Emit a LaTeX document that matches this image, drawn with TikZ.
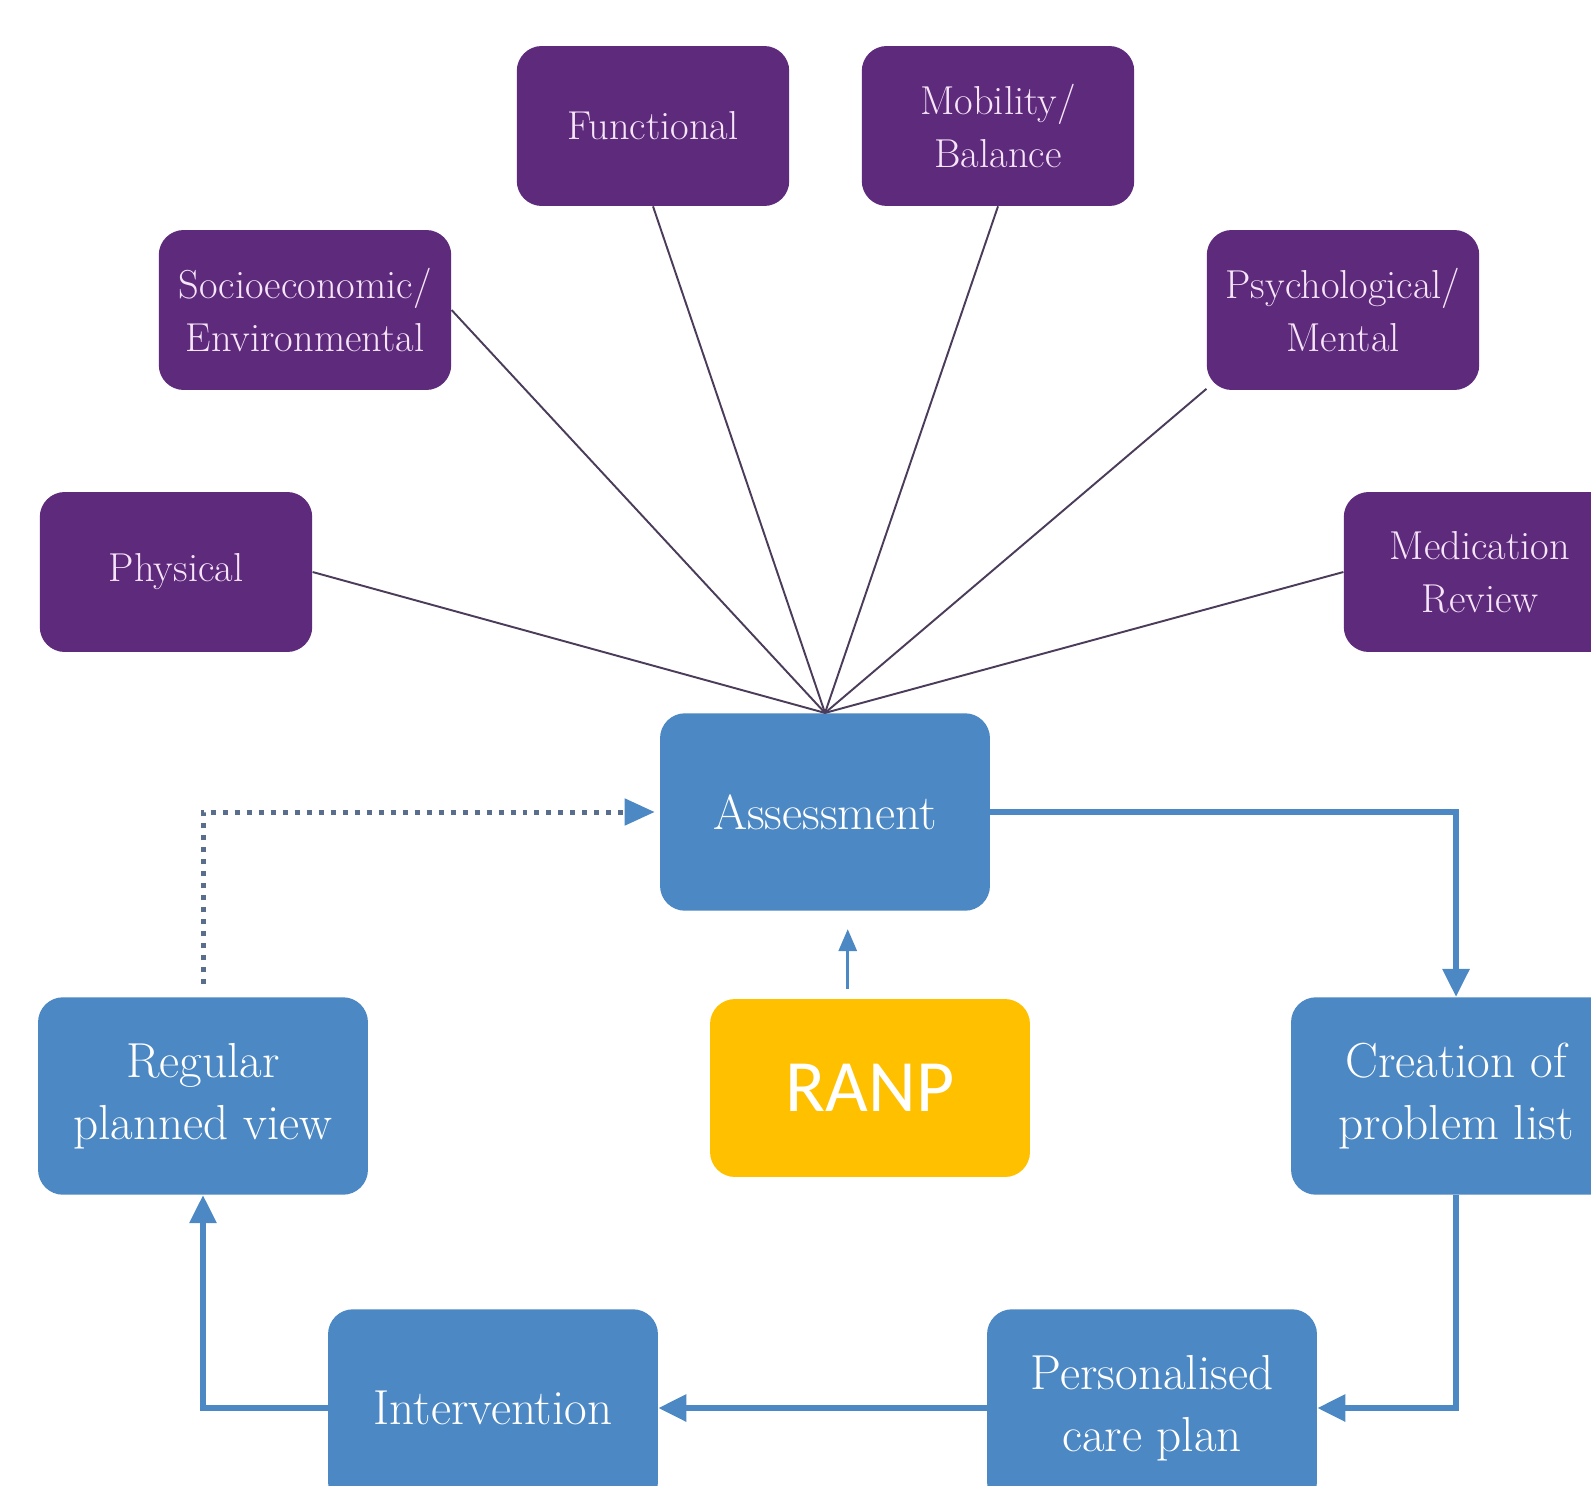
\documentclass[tikz,border=0pt]{standalone}
\usepackage{fontspec}
\newfontfamily\ranpfont{Carlito}
\usetikzlibrary{arrows.meta}

\begin{document}
\begin{tikzpicture}[x=0.02cm,y=-0.02cm,
    factor/.style={fill=factorpurple, text=factortext, rounded corners=0.5cm,
        minimum width=5.45cm, minimum height=3.2cm, align=center,
        font=\fontsize{23}{30}\selectfont},
    stage/.style={fill=stageblue, text=white, rounded corners=0.5cm,
        minimum width=6.6cm, minimum height=3.95cm, align=center,
        font=\fontsize{28}{35}\selectfont},
    fanline/.style={draw=fangray, line width=1.1pt},
    flow/.style={draw=stageblue, line width=3.4pt,
        -{Triangle[length=0.56cm,width=0.52cm]}},
    dotflow/.style={draw=dotgray, line width=0.1cm, dash pattern=on 0.1cm off 0.14cm,
        -{Triangle[length=0.6cm,width=0.52cm,color=stageblue,fill=stageblue]}},
    ranpflow/.style={draw=stageblue, line width=1.7pt,
        -{Triangle[length=0.44cm,width=0.36cm]}}
]

    % Colors
    \definecolor{factorpurple}{RGB}{94,42,124}
    \definecolor{factortext}{RGB}{246,228,248}
    \definecolor{stageblue}{RGB}{76,136,196}
    \definecolor{ranpyellow}{RGB}{255,192,0}
    \definecolor{fangray}{RGB}{75,60,90}
    \definecolor{dotgray}{RGB}{88,110,140}

    \useasboundingbox (0,0) rectangle (1591,1486);

    % Assessment factors
    \node[factor] (functional) at (653,126) {Functional};
    \node[factor] (mobility) at (998,126) {Mobility/\\Balance};
    \node[factor, minimum width=5.85cm] (socio) at (305,310) {Socioeconomic/\\Environmental};
    \node[factor] (psych) at (1343,310) {Psychological/\\Mental};
    \node[factor] (physical) at (176,572) {Physical};
    \node[factor] (medication) at (1480,572) {Medication\\Review};

    % Care cycle
    \node[stage] (assessment) at (825,812) {Assessment};
    \node[stage] (creation) at (1456,1096) {Creation of\\problem list};
    \node[stage] (personal) at (1152,1408) {Personalised\\care plan};
    \node[stage] (intervention) at (493,1408) {Intervention};
    \node[stage] (regular) at (203,1096) {Regular\\planned view};

    % RANP
    \node[fill=ranpyellow, text=white, rounded corners=0.5cm, minimum width=6.4cm,
        minimum height=3.56cm, font=\ranpfont\fontsize{42}{50}\selectfont]
        (ranp) at (870,1088) {RANP};

    % Fan lines into assessment
    \draw[fanline] (assessment.north) -- (physical.east);
    \draw[fanline] (assessment.north) -- (socio.east);
    \draw[fanline] (assessment.north) -- (functional.south);
    \draw[fanline] (assessment.north) -- (mobility.south);
    \draw[fanline] (assessment.north) -- (psych.210);
    \draw[fanline] (assessment.north) -- (medication.west);

    % Cycle arrows
    \draw[flow] (assessment.east) -| (creation.north);
    \draw[flow] (creation.south) |- (personal.east);
    \draw[flow] (personal.west) -- (intervention.east);
    \draw[flow] (intervention.west) -| (regular.south);
    \draw[dotflow, shorten <=0.25cm, shorten >=0.1cm] (regular.north) |- (assessment.west);
    \draw[ranpflow, shorten <=0.2cm, shorten >=0.36cm] (ranp.104) -- (ranp.104 |- assessment.south);

\end{tikzpicture}
\end{document}
